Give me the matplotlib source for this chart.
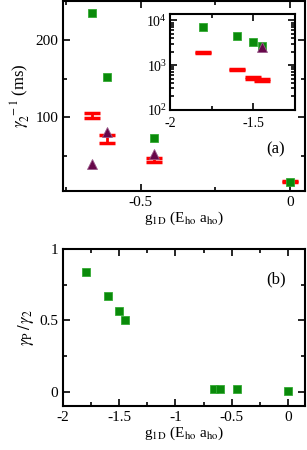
import numpy as np
import matplotlib.pyplot as plt
from matplotlib.ticker import MultipleLocator, LogLocator, NullFormatter

plt.rcParams['font.family'] = ['Liberation Serif', 'DejaVu Serif']
plt.rcParams['mathtext.fontset'] = 'stix'

GREEN = "#0a8a0a"
PURPLE = "#67074a"
RED = "#ff0000"

# ---- panel (a) main ----
g_sq = [-0.664, -0.612, -0.454, 0.0]
rate_sq = [235, 152, 73, 17]
g_tri = [-0.664, -0.612, -0.454]
rate_tri = [40, 81, 53]
g_err = [-0.664, -0.612, -0.454, 0.0]
rate_err = [102, 72, 45, 17]
err_err = [3.5, 5.5, 2.5, 1.0]

# ---- panel (a) inset ----
g_in = [-1.8, -1.6, -1.505, -1.45]
rate_in_sq = [7100, 4400, 3300, 2750]
g_in_tri = [-1.45]
rate_in_tri = [2600]
rate_in_err = [1950, 790, 515, 465]
err_in_err = [60, 25, 20, 20]

# ---- panel (b) ----
g_b = [-1.795, -1.597, -1.5, -1.45, -0.66, -0.605, -0.45, 0.0]
ratio_b = [0.84, 0.675, 0.57, 0.50, 0.017, 0.017, 0.017, 0.005]


def style(ax, lw=1.5):
    for s in ax.spines.values():
        s.set_linewidth(lw)
    ax.tick_params(which='both', direction='in', top=True, right=True,
                   width=1.2, labelsize=11)
    ax.tick_params(which='major', length=5)
    ax.tick_params(which='minor', length=3)


def fmt0(v, p):
    return "0" if abs(v) < 1e-9 else f"{v:g}"


fig = plt.figure(figsize=(3.07, 4.5), dpi=100)

ax1 = fig.add_axes([0.205, 0.576, 0.788, 0.421])
ax1.errorbar(g_err, rate_err, yerr=err_err, fmt='none', ecolor=RED,
             elinewidth=2, capsize=6, capthick=2.5, zorder=2)
ax1.plot(g_sq, rate_sq, 's', color=GREEN, ms=6.3, mec="#33aa33", mew=0.6, zorder=3)
ax1.plot(g_tri, rate_tri, '^', color=PURPLE, ms=7, mec="#9a5a8a", mew=0.6, zorder=4)
ax1.set_xlim(-0.76, 0.05)
ax1.set_ylim(5, 250)
ax1.xaxis.set_major_locator(MultipleLocator(0.5))
ax1.xaxis.set_minor_locator(MultipleLocator(0.25))
ax1.yaxis.set_major_locator(MultipleLocator(100))
ax1.yaxis.set_minor_locator(MultipleLocator(50))
ax1.xaxis.set_major_formatter(plt.FuncFormatter(fmt0))
ax1.set_xlabel(r"g$_{\rm 1D}$ (E$_{\rm ho}$ a$_{\rm ho}$)", fontsize=11, labelpad=1)
ax1.set_ylabel(r"$\gamma_2^{\ -1}$ (ms)", fontsize=12, labelpad=2)
style(ax1)
ax1.text(0.88, 0.22, "(a)", transform=ax1.transAxes, fontsize=12, ha='center', va='center')

# inset
axi = fig.add_axes([0.554, 0.756, 0.407, 0.213])
axi.set_yscale('log')
axi.errorbar(g_in, rate_in_err, yerr=err_in_err, fmt='none', ecolor=RED,
             elinewidth=2, capsize=6, capthick=2.5, zorder=2)
axi.plot(g_in, rate_in_sq, 's', color=GREEN, ms=6.3, mec="#33aa33", mew=0.6, zorder=3)
axi.plot(g_in_tri, rate_in_tri, '^', color=PURPLE, ms=7, mec="#9a5a8a", mew=0.6, zorder=4)
axi.set_xlim(-2, -1.25)
axi.set_ylim(100, 14000)
axi.xaxis.set_major_locator(MultipleLocator(0.5))
axi.xaxis.set_minor_locator(MultipleLocator(0.25))
axi.yaxis.set_major_locator(LogLocator(base=10, numticks=10))
axi.yaxis.set_minor_locator(LogLocator(base=10, subs=np.arange(2, 10), numticks=10))
axi.yaxis.set_minor_formatter(NullFormatter())
axi.xaxis.set_major_formatter(plt.FuncFormatter(lambda v, p: f"{v:g}"))
style(axi)
axi.tick_params(axis='y', labelsize=10, pad=2)
axi.tick_params(axis='x', labelsize=10, pad=5)

# ---- panel (b) ----
ax2 = fig.add_axes([0.205, 0.098, 0.788, 0.348])
ax2.plot(g_b, ratio_b, 's', color=GREEN, ms=6.3, mec="#33aa33", mew=0.6)
ax2.set_xlim(-2, 0.15)
ax2.set_ylim(-0.1, 1.0)
ax2.xaxis.set_major_locator(MultipleLocator(0.5))
ax2.xaxis.set_minor_locator(MultipleLocator(0.25))
ax2.yaxis.set_major_locator(MultipleLocator(0.5))
ax2.yaxis.set_minor_locator(MultipleLocator(0.25))
ax2.xaxis.set_major_formatter(plt.FuncFormatter(fmt0))
ax2.yaxis.set_major_formatter(plt.FuncFormatter(fmt0))
ax2.set_xlabel(r"g$_{\rm 1D}$ (E$_{\rm ho}$ a$_{\rm ho}$)", fontsize=11, labelpad=1)
ax2.set_ylabel(r"$\gamma_{\rm P}\,/\,\gamma_2$", fontsize=12, labelpad=2)
style(ax2)
ax2.text(0.88, 0.805, "(b)", transform=ax2.transAxes, fontsize=12, ha='center', va='center')

fig.savefig("out.png", dpi=100)
